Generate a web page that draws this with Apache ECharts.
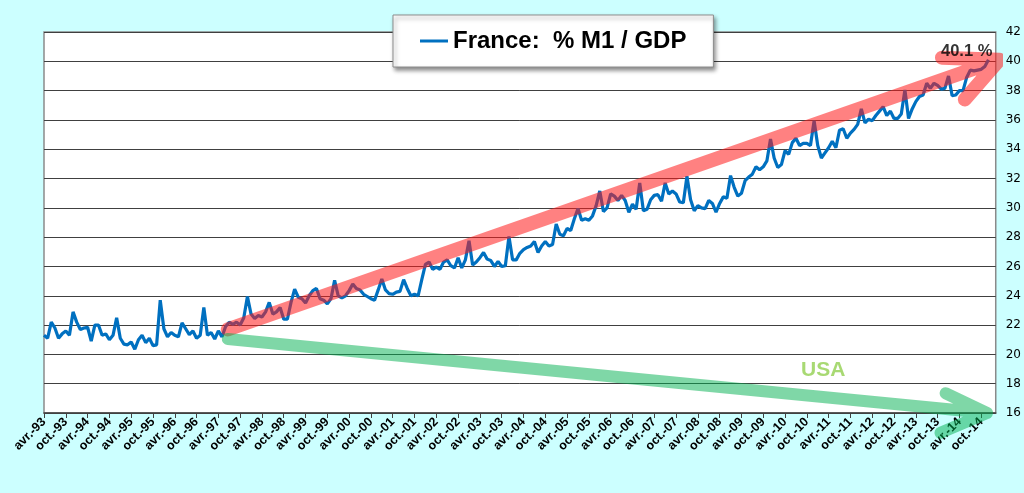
<!DOCTYPE html>
<html>
<head>
    <meta charset="utf-8">
    <title>France: % M1 / GDP</title>
    <script src="https://cdn.jsdelivr.net/npm/echarts@6/dist/echarts.min.js"></script>
</head>
<body>
<style>
    html, body, #main {
        width: 100%;
        height: 100%;
        padding: 0;
        margin: 0;
        background: #ccffff;
    }
</style>
<div id="main"></div>
<script type="text/javascript">

    // monthly series, avr.-93 .. déc.-14
    var m1Gdp = [
        21.3, 21.1, 22.2, 21.8, 21.1, 21.4, 21.6, 21.3, 22.9, 22.2,
        21.7, 21.8, 21.85, 20.9, 22.0, 22.0, 21.3, 21.4, 21.0, 21.3,
        22.5, 21.1, 20.7, 20.65, 20.85, 20.35, 21.0, 21.3, 20.8, 21.1,
        20.6, 20.65, 23.7, 21.75, 21.2, 21.5, 21.3, 21.2, 22.15, 21.75,
        21.35, 21.6, 21.1, 21.3, 23.2, 21.3, 21.5, 21.05, 21.6, 21.2,
        21.9, 22.2, 22.05, 22.2, 22.0, 22.5, 23.95, 22.75, 22.45, 22.65,
        22.55, 22.9, 23.55, 22.75, 22.9, 23.2, 22.4, 22.4, 23.55, 24.45,
        23.9, 23.8, 23.5, 24.0, 24.35, 24.5, 23.8, 23.7, 23.45, 23.8,
        25.05, 24.0, 23.85, 24.0, 24.35, 24.8, 24.5, 24.4, 24.1, 23.95,
        23.8, 23.7, 24.4, 25.15, 24.4, 24.15, 24.1, 24.25, 24.3, 25.1,
        24.5, 24.0, 24.1, 24.0, 25.1, 26.15, 26.3, 25.8, 25.95, 25.8,
        26.3, 26.45, 26.05, 25.9, 26.6, 25.9, 26.45, 27.75, 26.1, 26.3,
        26.6, 26.95, 26.5, 26.4, 26.0, 26.35, 26.0, 26.05, 28.05, 26.45,
        26.45, 26.9, 27.15, 27.3, 27.4, 27.7, 26.95, 27.4, 27.7, 27.4,
        27.5, 28.9, 28.2, 28.1, 28.6, 28.45, 29.25, 29.95, 29.15, 29.25,
        29.15, 29.45, 30.15, 31.15, 29.75, 30.0, 30.95, 30.8, 30.5, 30.85,
        30.5, 29.7, 30.25, 29.9, 31.7, 29.8, 29.9, 30.55, 30.85, 30.9,
        30.45, 31.7, 30.95, 31.15, 30.95, 30.4, 30.35, 32.15, 30.55, 29.8,
        30.15, 30.0, 29.95, 30.5, 30.3, 29.7, 30.3, 30.75, 30.65, 32.2,
        31.4, 30.8, 31.0, 31.85, 32.1, 32.3, 32.8, 32.6, 32.8, 33.2,
        34.7, 33.4, 32.75, 32.95, 33.9, 33.65, 34.45, 34.75, 34.25, 34.4,
        34.4, 34.25, 35.95, 34.25, 33.4, 33.75, 34.1, 34.55, 34.1, 35.3,
        35.4, 34.75, 35.1, 35.35, 35.7, 36.75, 35.8, 36.05, 35.95, 36.3,
        36.6, 36.9, 36.3, 36.6, 36.1, 36.1, 36.4, 38.05, 36.1, 36.75,
        37.25, 37.6, 37.7, 38.5, 38.15, 38.5, 38.35, 38.1, 38.15, 39.0,
        37.65, 37.7, 38.0, 38.0, 38.9, 39.4, 39.35, 39.4, 39.45, 39.65,
        40.1
    ];

    var monthNames = ['janv.', 'févr.', 'mars', 'avr.', 'mai', 'juin',
        'juil.', 'août', 'sept.', 'oct.', 'nov.', 'déc.'];
    var firstYear = 1993, firstMonth = 3, monthCount = 263;   // avr.-93 .. févr.-15

    var months = [];
    for (var k = 0; k < monthCount; k++) {
        var mm = (firstMonth + k) % 12;
        var yy = (firstYear + Math.floor((firstMonth + k) / 12)) % 100;
        months.push(monthNames[mm] + '-' + (yy < 10 ? '0' : '') + yy);
    }

    // annotations, in [month index, value]
    var redArrow = [[50.6, 21.7], [263, 40.1], [247.2, 40.25], [263, 40.1], [253.5, 37.4]];
    var greenArrow = [[50.6, 21.05], [259.6, 16.0], [248.2, 17.35], [259.6, 16.0], [246.8, 14.65]];
    var usaNote = [[214.5, 18.9]];
    var lastNote = [[254, 40.65]];

    var seriesName = 'France:  % M1 / GDP';

    var myChart = echarts.init(document.getElementById('main'));

    myChart.setOption({
        animation: false,
        backgroundColor: '#ccffff',
        grid: {
            left: 44,
            right: 27,
            top: 32,
            bottom: 80,
            show: true,
            backgroundColor: '#ffffff',
            borderColor: '#8a8a8a',
            borderWidth: 1.5
        },
        legend: {
            data: [seriesName],
            left: 393,
            top: 15,
            padding: [14, 27, 14, 27],
            backgroundColor: '#ffffff',
            borderColor: '#8c8c8c',
            borderWidth: 1,
            shadowColor: 'rgba(0,0,0,0.45)',
            shadowBlur: 4,
            shadowOffsetX: 2,
            shadowOffsetY: 3,
            icon: 'rect',
            itemWidth: 28,
            itemHeight: 3,
            textStyle: {
                fontFamily: 'Liberation Sans',
                fontWeight: 'bold',
                fontSize: 24,
                color: '#000'
            }
        },
        xAxis: [
            {
                type: 'category',
                data: months,
                boundaryGap: false,
                axisLine: {lineStyle: {color: '#404040', width: 1.5}},
                axisTick: {interval: 5, length: 5, lineStyle: {color: '#404040'}},
                axisLabel: {
                    interval: 5,
                    rotate: 45,
                    margin: 7,
                    fontFamily: 'Liberation Sans',
                    fontWeight: 'bold',
                    fontSize: 12.5,
                    color: '#000'
                },
                splitLine: {show: false}
            },
            {
                // same span as the months, used to place the drawn arrows / notes
                type: 'value',
                min: 0,
                max: monthCount - 1,
                show: false
            }
        ],
        yAxis: {
            type: 'value',
            position: 'right',
            min: 16,
            max: 42,
            interval: 2,
            axisLine: {show: false},
            axisTick: {show: false},
            axisLabel: {
                margin: 10,
                fontFamily: 'DejaVu Sans',
                fontSize: 12,
                color: '#000'
            },
            splitLine: {lineStyle: {color: '#404040', width: 1}}
        },
        series: [
            {
                name: seriesName,
                type: 'line',
                data: m1Gdp,
                showSymbol: false,
                color: '#0070c0',
                lineStyle: {width: 3.2, color: '#0070c0'},
                z: 2
            },
            {
                type: 'line',
                xAxisIndex: 1,
                data: redArrow,
                showSymbol: false,
                clip: false,
                silent: true,
                lineStyle: {width: 14, color: '#ff1a1a', opacity: 0.55, cap: 'round', join: 'round'},
                z: 3
            },
            {
                type: 'line',
                xAxisIndex: 1,
                data: greenArrow,
                showSymbol: false,
                clip: false,
                silent: true,
                lineStyle: {width: 12, color: '#00b050', opacity: 0.5, cap: 'round', join: 'round'},
                z: 3
            },
            {
                type: 'scatter',
                xAxisIndex: 1,
                data: usaNote,
                symbolSize: 0,
                silent: true,
                label: {
                    show: true,
                    position: 'inside',
                    formatter: 'USA',
                    fontFamily: 'Liberation Sans',
                    fontWeight: 'bold',
                    fontSize: 21,
                    color: '#92d050'
                },
                z: 4
            },
            {
                type: 'scatter',
                xAxisIndex: 1,
                data: lastNote,
                symbolSize: 0,
                silent: true,
                label: {
                    show: true,
                    position: 'inside',
                    formatter: '40.1 %',
                    fontFamily: 'Liberation Sans',
                    fontWeight: 'bold',
                    fontSize: 16.5,
                    color: '#000'
                },
                z: 4
            }
        ]
    });

    window.onresize = function () {
        myChart.resize();
    };

</script>
</body>
</html>
